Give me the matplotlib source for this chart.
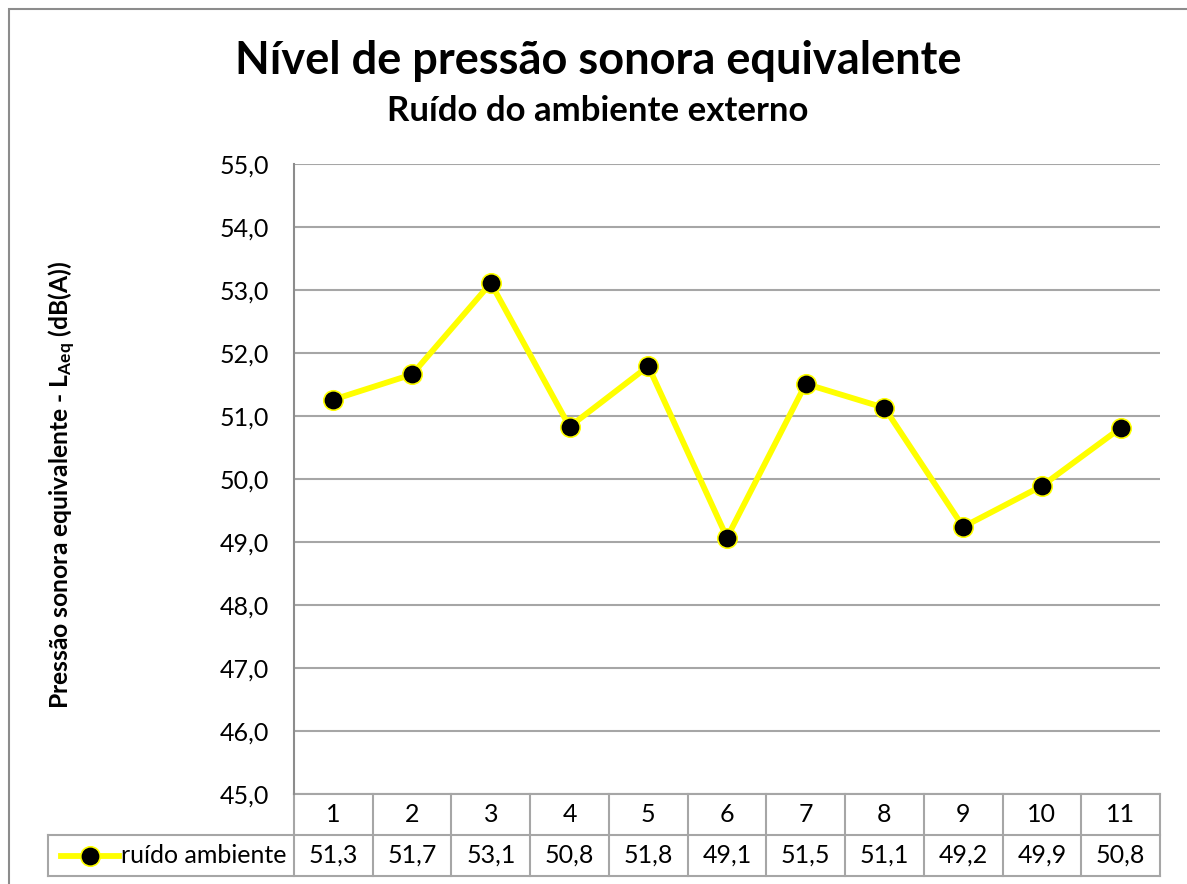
import matplotlib.pyplot as plt
from matplotlib.lines import Line2D
from matplotlib.patches import Rectangle

# dados
pontos = [1, 2, 3, 4, 5, 6, 7, 8, 9, 10, 11]
ruido = [51.26, 51.66, 53.11, 50.83, 51.79, 49.07, 51.51, 51.13, 49.24, 49.89, 50.81]
y_ticks = [45, 46, 47, 48, 49, 50, 51, 52, 53, 54, 55]
serie_nome = 'ruído ambiente'

plt.rcParams['font.family'] = 'Lato'
plt.rcParams['mathtext.fontset'] = 'custom'
plt.rcParams['mathtext.rm'] = 'Lato'
plt.rcParams['mathtext.bf'] = 'Lato:bold'

W, H = 1187, 884
fig = plt.figure(figsize=(W / 100, H / 100), dpi=100)

# borda externa do grafico
fig.patches.append(Rectangle((9 / W, -0.1), 1.2, 1 - 9 / H + 0.1, transform=fig.transFigure,
                             fill=False, edgecolor='#8c8c8c', lw=1.5))

ax = fig.add_axes([294 / W, 1 - 794 / H, (1160 - 294) / W, (794 - 164) / H])
grid_col = '#a6a6a6'
amarelo = '#ffff00'

ax.plot(pontos, ruido, color=amarelo, lw=4.2, marker='o', markersize=14,
        markerfacecolor='black', markeredgecolor=amarelo, markeredgewidth=1.2, zorder=3)

ax.set_xlim(0.5, 11.5)
ax.set_ylim(45, 55)
ax.set_yticks(y_ticks)
ax.set_yticklabels([f'{v:.1f}'.replace('.', ',') for v in y_ticks], fontsize=18)
ax.tick_params(axis='y', length=0, pad=18)
ax.set_xticks([])
ax.yaxis.grid(True, color=grid_col, lw=1.5)
for s in ['top', 'right', 'bottom']:
    ax.spines[s].set_visible(False)
ax.spines['left'].set_color('#8c8c8c')
ax.spines['left'].set_linewidth(1.5)

# tabela de dados
row_h = 41 / (794 - 164)
xt = ax.get_xaxis_transform()
kw = dict(color=grid_col, lw=1.5, clip_on=False)
leg_left = (48 - 294) / (1160 - 294)
ax.plot([0.5, 11.5], [0, 0], transform=xt, **kw)
ax.plot([0.5, 11.5], [-row_h, -row_h], transform=xt, **kw)
ax.plot([leg_left, 1], [-2 * row_h, -2 * row_h], transform=ax.transAxes, **kw)
ax.plot([leg_left, 0], [-row_h, -row_h], transform=ax.transAxes, **kw)
ax.plot([leg_left, leg_left], [-row_h, -2 * row_h], transform=ax.transAxes, **kw)
for b in range(len(pontos) + 1):
    ax.plot([b + 0.5, b + 0.5], [0, -2 * row_h], transform=xt, **kw)

for x, v in zip(pontos, ruido):
    ax.text(x, -row_h / 2, str(x), transform=xt, ha='center', va='center', fontsize=18)
    ax.text(x, -1.5 * row_h, f'{v:.1f}'.replace('.', ','), transform=xt,
            ha='center', va='center', fontsize=18)

# legenda dentro da tabela
lx0 = (61 - 294) / (1160 - 294)
lx1 = (119 - 294) / (1160 - 294)
ax.add_line(Line2D([lx0, lx1], [-1.5 * row_h] * 2, transform=ax.transAxes, color=amarelo,
                   lw=4.2, clip_on=False))
ax.add_line(Line2D([(lx0 + lx1) / 2], [-1.5 * row_h], transform=ax.transAxes, marker='o',
                   markersize=14, markerfacecolor='black', markeredgecolor=amarelo,
                   markeredgewidth=1.2, clip_on=False))
ax.text((121 - 294) / (1160 - 294), -1.5 * row_h, serie_nome, transform=ax.transAxes,
        ha='left', va='center', fontsize=18)

fig.text(598 / W, 1 - 61 / H, 'Nível de pressão sonora equivalente', ha='center', va='center',
         fontsize=32.5, fontweight='bold')
fig.text(598 / W, 1 - 111 / H, 'Ruído do ambiente externo', ha='center', va='center',
         fontsize=25, fontweight='bold')
fig.text(62 / W, 1 - 485 / H, r'Pressão sonora equivalente - $\mathbf{L_{Aeq}}$ (dB(A))',
         rotation=90, ha='center', va='center', fontsize=17.7, fontweight='bold')

fig.savefig('out.png', dpi=100)
